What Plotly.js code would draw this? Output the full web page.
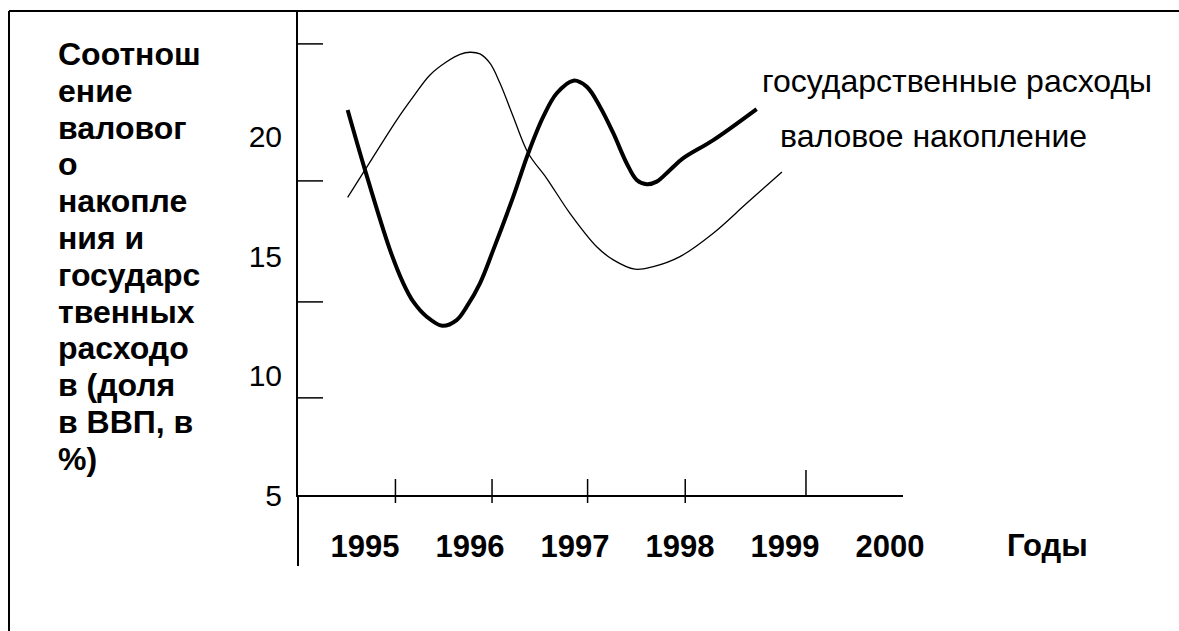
<!DOCTYPE html>
<html>
<head>
<meta charset="utf-8">
<script src="https://cdn.plot.ly/plotly-3.0.1.min.js"></script>
<style>
html,body{margin:0;padding:0;background:#fff;}
#chart{width:1179px;height:631px;}
</style>
</head>
<body>
<div id="chart"></div>
<script>
// ---- data ----
const govYears = [1994.835, 1995.0, 1995.238, 1995.365, 1995.46, 1995.588, 1995.736, 1995.873, 1995.969, 1996.095, 1996.222, 1996.412, 1996.555, 1996.698, 1996.826, 1996.984, 1997.111, 1997.238, 1997.365, 1997.492, 1997.588, 1997.683, 1997.778, 1997.905, 1998.031, 1998.317, 1998.73];
const govValues = [21.13, 18.62, 15.27, 13.87, 13.10, 12.47, 12.09, 12.33, 12.89, 13.87, 15.27, 17.50, 19.32, 20.85, 21.83, 22.36, 22.11, 21.27, 20.16, 18.90, 18.20, 18.02, 18.13, 18.62, 19.11, 19.87, 21.17];

const accYears = [1994.835, 1995.0, 1995.302, 1995.46, 1995.619, 1995.778, 1995.905, 1996.0, 1996.095, 1996.19, 1996.286, 1996.412, 1996.555, 1996.73, 1996.952, 1997.207, 1997.365, 1997.571, 1997.746, 1998.0, 1998.317, 1998.635, 1998.971];
const accValues = [17.47, 18.62, 20.71, 21.69, 22.60, 23.15, 23.46, 23.55, 23.48, 23.09, 22.25, 20.85, 19.32, 18.27, 16.80, 15.40, 14.85, 14.46, 14.57, 14.99, 15.97, 17.22, 18.53];

const yearTicks = [1995, 1996, 1997, 1998, 1999, 2000];
const yearLabels = ['1995', '1996', '1997', '1998', '1999', '2000'];
const valueTicks = [5, 10, 15, 20];
const valueLabels = ['5', '10', '15', '20'];

// decorative tick-mark positions (as drawn in the original)
const xTickMarks = [1995.29, 1996.21, 1997.12, 1998.05];
const xTickMarkTall = [1999.2];
const yTickMarks = [23.9, 18.16, 13.09, 9.07];

const govName = 'государственные расходы';
const accName = 'валовое накопление';
const xName = 'Годы';
const titleLines = ['Соотнош', 'ение', 'валовог', 'о', 'накопле', 'ния и', 'государс', 'твенных', 'расходо', 'в (доля', 'в ВВП, в', '%)'];

// ---- layout constants ----
const W = 1179, H = 631;
const mL = 298, mR = 276, mT = 10, mB = 136;
const plotW = W - mL - mR, plotH = H - mT - mB;
const px2paperX = p => (p - mL) / plotW;
const py2paperY = p => (H - mB - p) / plotH;

const FONT = 'Liberation Sans, Arial, sans-serif';

const traces = [
  {x: govYears, y: govValues, type: 'scatter', mode: 'lines', name: govName,
   line: {color: '#000', width: 4, shape: 'spline', smoothing: 1}, hoverinfo: 'skip'},
  {x: accYears, y: accValues, type: 'scatter', mode: 'lines', name: accName,
   line: {color: '#000', width: 1.3, shape: 'spline', smoothing: 1}, hoverinfo: 'skip'}
];

const shapes = [];
const lineStyle = {color: '#000', width: 1.5};
// frame
shapes.push({type: 'line', xref: 'paper', yref: 'paper', x0: px2paperX(9), x1: px2paperX(1179), y0: py2paperY(11), y1: py2paperY(11), line: {color: '#000', width: 2}});
shapes.push({type: 'line', xref: 'paper', yref: 'paper', x0: px2paperX(9), x1: px2paperX(9), y0: py2paperY(11), y1: py2paperY(631), line: {color: '#000', width: 2}});
// y-axis extension below x-axis
shapes.push({type: 'line', xref: 'paper', yref: 'paper', x0: 0, x1: 0, y0: 0, y1: py2paperY(566), line: {color: '#000', width: 2}});
// y tick marks
yTickMarks.forEach(v => shapes.push({type: 'line', xref: 'paper', yref: 'y', x0: 0, x1: px2paperX(323), y0: v, y1: v, line: lineStyle}));
// x tick marks
xTickMarks.forEach(v => shapes.push({type: 'line', xref: 'x', yref: 'paper', x0: v, x1: v, y0: py2paperY(479), y1: py2paperY(503), line: lineStyle}));
xTickMarkTall.forEach(v => shapes.push({type: 'line', xref: 'x', yref: 'paper', x0: v, x1: v, y0: py2paperY(470), y1: 0, line: lineStyle}));

const annotations = [];
titleLines.forEach((t, i) => {
  const baseline = 65 + 36.8 * i;
  annotations.push({text: t, xref: 'paper', yref: 'paper', x: px2paperX(56), y: py2paperY(baseline - 11),
    xanchor: 'left', yanchor: 'middle', showarrow: false,
    font: {family: FONT, size: 32, color: '#000', weight: 'bold'}});
});
annotations.push({text: govName, xref: 'paper', yref: 'paper', x: px2paperX(760), y: py2paperY(81),
  xanchor: 'left', yanchor: 'middle', showarrow: false, font: {family: FONT, size: 32, color: '#000'}});
annotations.push({text: accName, xref: 'paper', yref: 'paper', x: px2paperX(778), y: py2paperY(136),
  xanchor: 'left', yanchor: 'middle', showarrow: false, font: {family: FONT, size: 32, color: '#000'}});
annotations.push({text: xName, xref: 'paper', yref: 'paper', x: px2paperX(1005), y: py2paperY(545),
  xanchor: 'left', yanchor: 'middle', showarrow: false, font: {family: FONT, size: 31, color: '#000', weight: 'bold'}});

const layout = {
  width: W, height: H,
  margin: {l: mL, r: mR, t: mT, b: mB, pad: 0},
  paper_bgcolor: '#fff', plot_bgcolor: '#fff',
  showlegend: false,
  xaxis: {
    range: [1994.362, 2000.124], showgrid: false, zeroline: false,
    showline: true, linecolor: '#000', linewidth: 1.5, mirror: false,
    tickmode: 'array', tickvals: yearTicks, ticktext: yearLabels, ticks: '',
    ticklabelstandoff: 23,
    tickfont: {family: FONT, size: 31, color: '#000', weight: 'bold'}
  },
  yaxis: {
    range: [5, 25.32], showgrid: false, zeroline: false,
    showline: true, linecolor: '#000', linewidth: 2,
    tickmode: 'array', tickvals: valueTicks, ticktext: valueLabels, ticks: '',
    ticklabelstandoff: 8,
    tickfont: {family: FONT, size: 30, color: '#000'}
  },
  shapes: shapes,
  annotations: annotations
};

Plotly.newPlot('chart', traces, layout, {staticPlot: true, displayModeBar: false});
</script>
</body>
</html>
